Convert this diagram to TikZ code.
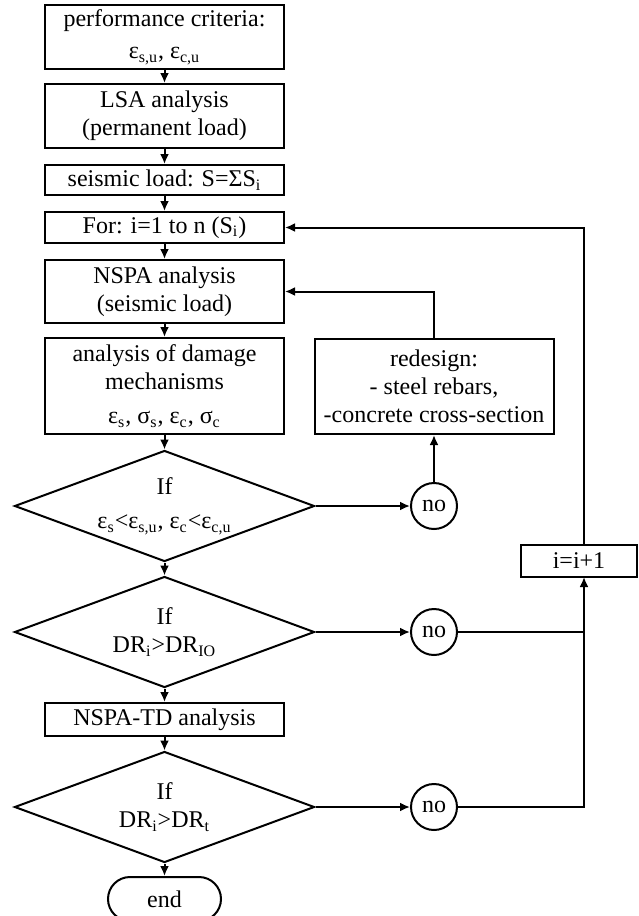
\documentclass[tikz,border=0pt]{standalone}
\usepackage{fontspec}
\setmainfont{Liberation Serif}
\usetikzlibrary{shapes.geometric, arrows.meta}

\begin{document}
\begin{tikzpicture}[x=0.5pt, y=-0.5pt, line width=1pt, >={Latex[length=5pt,width=4.5pt]},
  every node/.style={font=\fontsize{12}{14}\selectfont, align=center, inner sep=1pt},
  box/.style={draw, rectangle, minimum width=119.5pt},
  cond/.style={draw, diamond, aspect=2.7, inner sep=0pt, minimum width=150pt, minimum height=55.5pt},
  nocirc/.style={draw, circle, minimum size=23pt, inner sep=0pt},
  term/.style={draw, rectangle, rounded corners=11pt, minimum width=56.5pt, minimum height=22pt}]
  \def\cx{164.5} % main column
  \def\rx{434} % right column
  \def\bus{584} % return line

  \useasboundingbox (0,0) rectangle (638,916);

  % MAIN COLUMN
  \node [box, minimum height=32pt] (crit) at (\cx,37) {performance criteria:\\[2pt] ε\textsubscript{s,u}, ε\textsubscript{c,u}};
  \node [box, minimum height=32pt] (lsa) at (\cx,116) {LSA analysis\\(permanent load)};
  \node [box, minimum height=15pt] (load) at (\cx,180) {seismic load: S=ΣS\textsubscript{i}};
  \node [box, minimum height=15.5pt] (loop) at (\cx,227.5) {For: i=1 to n (S\textsubscript{i})};
  \node [box, minimum height=31.5pt] (nspa) at (\cx,291.5) {NSPA analysis\\(seismic load)};
  \node [box, minimum height=48pt] (dmg) at (\cx,386) {analysis of damage\\mechanisms\\[3pt] ε\textsubscript{s}, σ\textsubscript{s}, ε\textsubscript{c}, σ\textsubscript{c}};
  \node [cond] (strain) at (\cx,506) {If\\[3pt] ε\textsubscript{s}<ε\textsubscript{s,u}, ε\textsubscript{c}<ε\textsubscript{c,u}};
  \node [cond] (drio) at (\cx,632) {If\\DR\textsubscript{i}>DR\textsubscript{IO}};
  \node [box, minimum height=16.5pt] (td) at (\cx,719.5) {NSPA-TD analysis};
  \node [cond] (drt) at (\cx,807) {If\\DR\textsubscript{i}>DR\textsubscript{t}};
  \node [term] (end) at (\cx,899) {end};

  % RIGHT SIDE
  \node [box, minimum height=47.5pt] (redo) at (\rx,386.5) {redesign:\\- steel rebars,\\-concrete cross-section};
  \node [nocirc] (no1) at (\rx,506) {no};
  \node [nocirc] (no2) at (\rx,632) {no};
  \node [nocirc] (no3) at (\rx,807) {no};
  \node [box, minimum width=58pt, minimum height=16pt] (inc) at (579,561) {i=i+1};
  \coordinate (incin) at (\bus,577);
  \coordinate (incout) at (\bus,545);

  % ARROWS
  \foreach \a/\b in {crit/lsa, lsa/load, load/loop, loop/nspa, nspa/dmg, dmg/strain, strain/drio, drio/td, td/drt, drt/end}
    \draw [->] (\a) -- (\b);
  \draw [->] (strain) -- (no1);
  \draw [->] (no1) -- (redo);
  \draw [->] (redo.north) |- (nspa.east);
  \draw [->] (drio) -- (no2);
  \draw [->] (drt) -- (no3);
  \draw (no2) -- (no2 -| incin);
  \draw [->] (no3) -| (incin);
  \draw [->] (incout) |- (loop.east);

\end{tikzpicture}
\end{document}
